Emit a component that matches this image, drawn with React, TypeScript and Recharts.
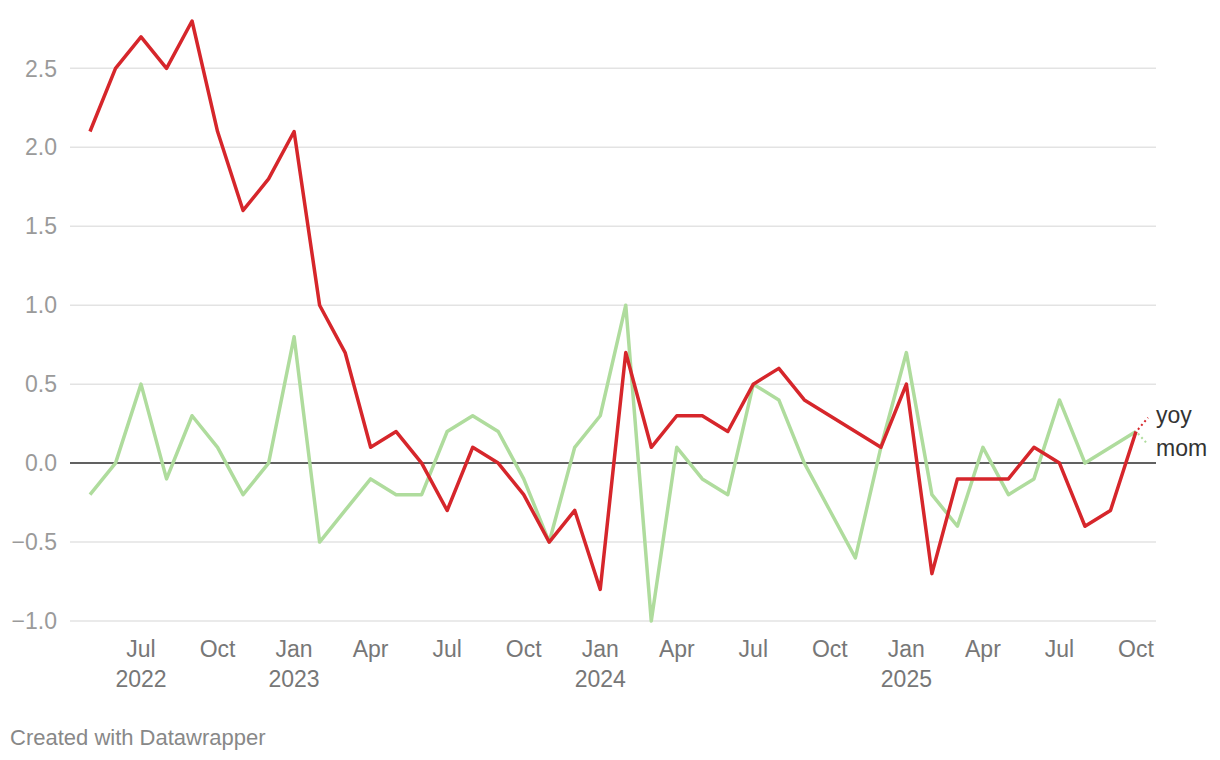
import { CartesianGrid, LabelList, Line, LineChart, ReferenceLine, XAxis, YAxis } from "recharts";

const MONTHS = [
  "2022-05", "2022-06", "2022-07", "2022-08", "2022-09", "2022-10", "2022-11", "2022-12",
  "2023-01", "2023-02", "2023-03", "2023-04", "2023-05", "2023-06", "2023-07", "2023-08",
  "2023-09", "2023-10", "2023-11", "2023-12", "2024-01", "2024-02", "2024-03", "2024-04",
  "2024-05", "2024-06", "2024-07", "2024-08", "2024-09", "2024-10", "2024-11", "2024-12",
  "2025-01", "2025-02", "2025-03", "2025-04", "2025-05", "2025-06", "2025-07", "2025-08",
  "2025-09", "2025-10",
];

const YOY = [
  2.1, 2.5, 2.7, 2.5, 2.8, 2.1, 1.6, 1.8,
  2.1, 1.0, 0.7, 0.1, 0.2, 0.0, -0.3, 0.1,
  0.0, -0.2, -0.5, -0.3, -0.8, 0.7, 0.1, 0.3,
  0.3, 0.2, 0.5, 0.6, 0.4, 0.3, 0.2, 0.1,
  0.5, -0.7, -0.1, -0.1, -0.1, 0.1, 0.0, -0.4,
  -0.3, 0.2,
];

const MOM = [
  -0.2, 0.0, 0.5, -0.1, 0.3, 0.1, -0.2, 0.0,
  0.8, -0.5, -0.3, -0.1, -0.2, -0.2, 0.2, 0.3,
  0.2, -0.1, -0.5, 0.1, 0.3, 1.0, -1.0, 0.1,
  -0.1, -0.2, 0.5, 0.4, 0.0, -0.3, -0.6, 0.1,
  0.7, -0.2, -0.4, 0.1, -0.2, -0.1, 0.4, 0.0,
  0.1, 0.2,
];

const MONTH_NAMES = ["Jan", "Feb", "Mar", "Apr", "May", "Jun", "Jul", "Aug", "Sep", "Oct", "Nov", "Dec"];
const Y_TICKS = [-1.0, -0.5, 0.0, 0.5, 1.0, 1.5, 2.0, 2.5];

const RED = "#d6262b";
const GREEN = "#afdc9d";
const FONT = "'Liberation Sans', Arial, Helvetica, sans-serif";

const data = MONTHS.map((m, i) => ({ t: i, month: m, yoy: YOY[i], mom: MOM[i] }));

// quarter ticks: Jul, Oct, Jan, Apr ...
const X_TICKS = MONTHS.map((m, i) => ({ m, i }))
  .filter(({ m }) => [1, 4, 7, 10].includes(Number(m.slice(5))))
  .map(({ i }) => i);

function XTick(props: any) {
  const { x, y, payload } = props;
  const m = MONTHS[payload.value];
  const monthNum = Number(m.slice(5));
  const showYear = monthNum === 1 || payload.value === X_TICKS[0];
  return (
    <g>
      <text x={x} y={y + 34} textAnchor="middle" fill="#777" fontSize={23} fontFamily={FONT}>
        {MONTH_NAMES[monthNum - 1]}
      </text>
      {showYear && (
        <text x={x} y={y + 64} textAnchor="middle" fill="#777" fontSize={23} fontFamily={FONT}>
          {m.slice(0, 4)}
        </text>
      )}
    </g>
  );
}

const fmtY = (v: number) => (v < 0 ? "\u2212" + Math.abs(v).toFixed(1) : v.toFixed(1));

function endLabel(name: string, color: string, dy: number) {
  return (props: any) => {
    const { x, y, index } = props;
    if (index !== MONTHS.length - 1) return null;
    return (
      <g>
        <line
          x1={x + 2}
          y1={y + Math.sign(dy) * 2}
          x2={x + 12}
          y2={y + dy * 0.82}
          stroke={color}
          strokeWidth={2}
          strokeDasharray="2 3"
        />
        <text x={x + 20} y={y + dy + 8} fill="#333" fontSize={23} fontFamily={FONT}>
          {name}
        </text>
      </g>
    );
  };
}

export default function App() {
  return (
    <div style={{ position: "relative", width: 1204, height: 744, fontFamily: FONT }}>
      <LineChart width={1204} height={700} data={data} margin={{ top: 13, right: 56, bottom: 0, left: 0 }}>
        <CartesianGrid horizontal vertical={false} horizontalValues={Y_TICKS} stroke="#e3e3e3" strokeWidth={1.5} />
        <XAxis
          dataKey="t"
          type="number"
          domain={[0, MONTHS.length - 1]}
          ticks={X_TICKS}
          interval={0}
          tick={<XTick />}
          axisLine={false}
          tickLine={false}
          tickSize={0}
          height={87}
          padding={{ left: 20, right: 20 }}
        />
        <YAxis
          domain={[-1.0, 2.8]}
          ticks={Y_TICKS}
          tickFormatter={fmtY}
          axisLine={false}
          tickLine={false}
          tickSize={0}
          tickMargin={13}
          width={62}
          tick={{ fill: "#9a9a9a", fontSize: 23, fontFamily: FONT }}
        />
        <ReferenceLine y={0} stroke="#333" strokeWidth={1.5} />
        <Line
          dataKey="mom"
          stroke={GREEN}
          strokeWidth={3.5}
          dot={false}
          isAnimationActive={false}
          strokeLinejoin="round"
        >
          <LabelList dataKey="mom" content={endLabel("mom", GREEN, 16)} />
        </Line>
        <Line
          dataKey="yoy"
          stroke={RED}
          strokeWidth={3.5}
          dot={false}
          isAnimationActive={false}
          strokeLinejoin="round"
        >
          <LabelList dataKey="yoy" content={endLabel("yoy", RED, -17)} />
        </Line>
      </LineChart>
      <div style={{ position: "absolute", left: 2, top: 717, fontSize: 22, lineHeight: "26px", color: "#888" }}>
        Created with Datawrapper
      </div>
    </div>
  );
}
